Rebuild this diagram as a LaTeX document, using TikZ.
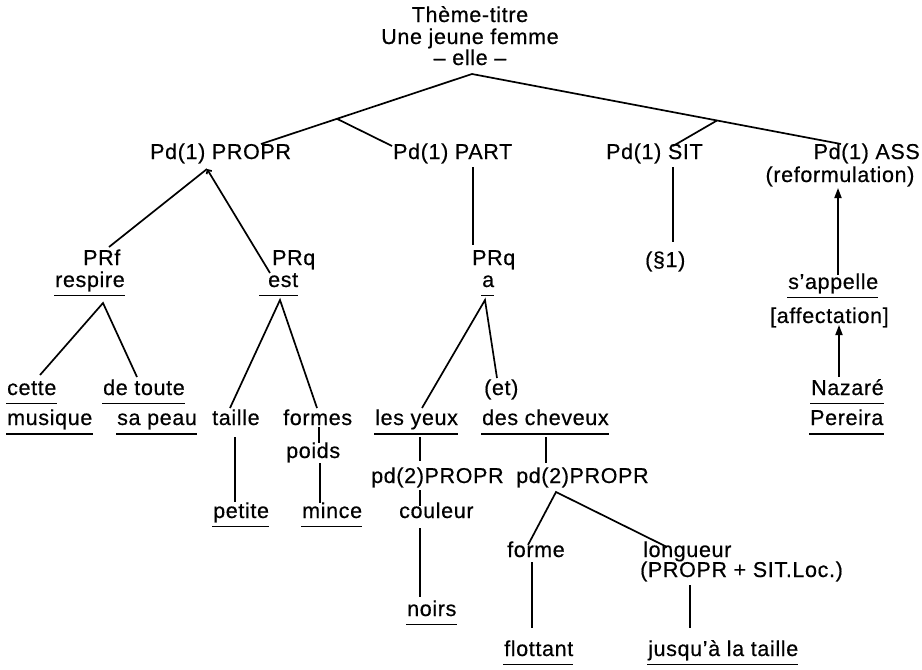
\documentclass[tikz,border=0pt]{standalone}
\usepackage{fontspec}
\setmainfont{Liberation Sans}[LetterSpace=3,FakeBold=0.5]
\usetikzlibrary{arrows.meta,calc}
% underline a word node a few points below its baseline
\newcommand\ulnode[2][8.5]{\draw[uline] ($(#2.base west)+(-1,#1)$) -- ($(#2.base east)+(0,#1)$);}
\begin{document}
\begin{tikzpicture}[x=1pt,y=-1pt,
  lbl/.style={inner sep=0pt,anchor=base west,font=\fontsize{21.5}{23}\selectfont},
  mid/.style={lbl,anchor=base},
  link/.style={line width=1.7pt},
  uline/.style={line width=1.7pt},
  upar/.style={link,-{Triangle[length=10pt,width=7pt]}},
  barb/.style={link,-{Straight Barb[length=3pt,width=6pt]}}]
\useasboundingbox (0,0) rectangle (922,670);

% heading: the theme
\node[mid] (t1) at (470,22) {Thème-titre};
\node[mid] (t2) at (470,44) {Une jeune femme};
\node[mid] (t3) at (470,65) {– elle –};

% first-degree predicates
\node[lbl] (propr) at (150,159) {Pd(1) PROPR};
\node[lbl] (part) at (393,159) {Pd(1) PART};
\node[lbl] (sit) at (606,159) {Pd(1) SIT};
\node[lbl,anchor=base east] (ass) at (920,159) {Pd(1) ASS};
\node[mid] (reform) at (840,182) {(reformulation)};

% second level
\node[lbl] (prf) at (83,265) {PRf};
\node[lbl] (respire) at (55,287) {respire};
\node[lbl] (prq1) at (272,265) {PRq};
\node[lbl] (est) at (268,287) {est};
\node[lbl] (prq2) at (472,265) {PRq};
\node[lbl] (a) at (482,287) {a};
\node[lbl] (par1) at (645,267) {(§1)};
\node[lbl] (sappelle) at (788,289) {s’appelle};
\node[lbl] (affect) at (770,323) {[affectation]};

% third level
\node[lbl] (cette) at (7,395) {cette};
\node[lbl] (detoute) at (103,395) {de toute};
\node[lbl] (musique) at (7,425) {musique};
\node[lbl] (sapeau) at (117,425) {sa peau};
\node[lbl] (taille) at (212,425) {taille};
\node[lbl] (formes) at (283,425) {formes};
\node[lbl] (poids) at (286,458) {poids};
\node[lbl] (petite) at (213,518) {petite};
\node[lbl] (mince) at (302,518) {mince};
\node[lbl] (et) at (484,395) {(et)};
\node[lbl] (yeux) at (375,425) {les yeux};
\node[lbl] (cheveux) at (482,425) {des cheveux};
\node[lbl] (nazare) at (811,395) {Nazaré};
\node[lbl] (pereira) at (810,425) {Pereira};

% second-degree predicates
\node[lbl] (pdy) at (371,483) {pd(2)PROPR};
\node[lbl] (pdc) at (516,483) {pd(2)PROPR};
\node[lbl] (couleur) at (399,518) {couleur};
\node[lbl] (noirs) at (407,616) {noirs};
\node[lbl] (forme) at (507,557) {forme};
\node[lbl] (longueur) at (643,557) {longueur};
\node[lbl] (loc) at (640,577) {(PROPR + SIT.Loc.)};
\node[lbl] (flottant) at (504,656) {flottant};
\node[lbl] (jusqua) at (648,656) {jusqu’à la taille};

% underlined words
\foreach \w in {respire,a,cette,detoute,sappelle,nazare}{\ulnode{\w}}
\foreach \w in {musique,sapeau,yeux,cheveux,pereira}{\ulnode[9]{\w}}
\foreach \w in {petite,mince,noirs,flottant,jusqua}{\ulnode{\w}}
\draw[uline] ($(est.base west)+(-9,8.5)$) -- ($(est.base east)+(0,8.5)$);

% junction points
\coordinate (root) at (472,74);
\coordinate (propr-in) at (261,144);
\coordinate (part-in) at (392,146);
\coordinate (sit-in) at (673,146);
\coordinate (ass-in) at (841,144);
\coordinate (j1) at ($(root)!0.64!(propr-in)$);
\coordinate (j2) at ($(root)!0.664!(ass-in)$);

% theme to first-degree predicates
\draw[link] (propr-in) -- (root) -- (ass-in);
\draw[link] (j1) -- (part-in);
\draw[link] (j2) -- (sit-in);

% PROPR branch
\coordinate (propr-out) at (207,169);
\coordinate (prf-in) at (109,247);
\coordinate (est-in) at (270,273);
\draw[link] (prf-in) -- (propr-out);
\draw[barb] (est-in) -- (propr-out);

\coordinate (respire-out) at (103,303);
\coordinate (cette-in) at (40,375);
\coordinate (detoute-in) at (137,377);
\draw[link] (cette-in) -- (respire-out) -- (detoute-in);

\coordinate (est-out) at (280,300);
\coordinate (taille-in) at (230,408);
\coordinate (formes-in) at (317,408);
\draw[link] (taille-in) -- (est-out) -- (formes-in);
\draw[link] (235,437) coordinate (taille-out) -- (235,502) coordinate (petite-in);
\draw[link] (319,427) coordinate (formes-out) -- (319,443) coordinate (poids-in);
\draw[link] (320,463) coordinate (poids-out) -- (320,503) coordinate (mince-in);

% PART branch
\draw[link] (473,167) coordinate (part-out) -- (473,245) coordinate (prq2-in);
\coordinate (a-out) at (485,300);
\coordinate (yeux-in) at (422,408);
\coordinate (et-in) at (497,378);
\draw[link] (yeux-in) -- (a-out) -- (et-in);
\draw[link] (420,437) coordinate (yeux-out) -- (420,461) coordinate (pdy-in);
\draw[link] (420,490) coordinate (pdy-out) -- (420,506) coordinate (couleur-in);
\draw[link] (420,528) coordinate (couleur-out) -- (420,597) coordinate (noirs-in);
\draw[link] (546,437) coordinate (cheveux-out) -- (546,463) coordinate (pdc-in);
\coordinate (pdc-out) at (556,492);
\coordinate (forme-in) at (528,545);
\coordinate (longueur-in) at (667,547);
\draw[link] (forme-in) -- (pdc-out) -- (longueur-in);
\draw[link] (532,562) coordinate (forme-out) -- (532,628) coordinate (flottant-in);
\draw[link] (690,585) coordinate (loc-out) -- (690,628) coordinate (jusqua-in);

% SIT branch
\draw[link] (673,167) coordinate (sit-out) -- (673,242) coordinate (par1-in);

% ASS branch: upward arrows
\draw[upar] (838,275) coordinate (sappelle-out) -- (838,188) coordinate (reform-in);
\draw[upar] (839,377) coordinate (nazare-out) -- (839,325) coordinate (affect-in);
\end{tikzpicture}
\end{document}
